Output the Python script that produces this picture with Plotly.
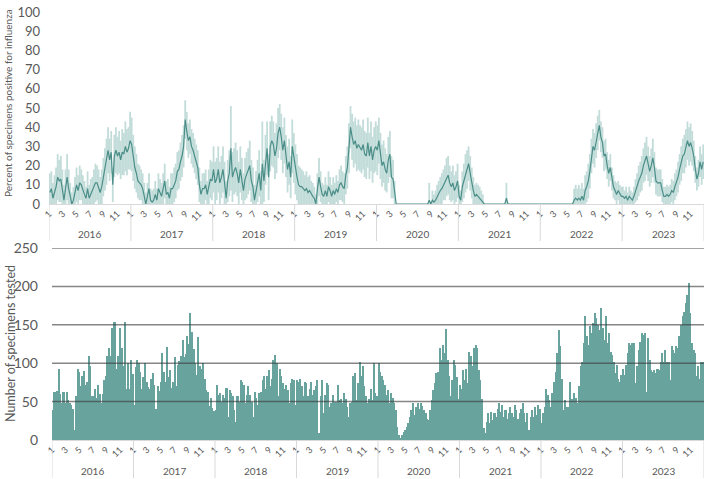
from pathlib import Path
import plotly.graph_objects as go

# === 1. Data (weekly, 52 weeks per year) ===
years = ["2016", "2017", "2018", "2019", "2020", "2021", "2022", "2023"]
tick_months = [1, 3, 5, 7, 9, 11]

# percent of specimens positive for influenza
pct_positive = [
    # 2016
    6, 8, 3, 6, 9, 14, 12, 13, 8, 2, 8, 14, 8,
    4, 0, 2, 6, 10, 7, 11, 10, 7, 5, 3, 8, 3,
    5, 6, 9, 11, 11, 9, 6, 9, 14, 18, 22, 28, 23,
    27, 10, 25, 28, 25, 27, 23, 27, 26, 30, 27, 29, 33,
    # 2017
    31, 24, 19, 16, 12, 11, 10, 8, 4, 0, 4, 8, 2,
    1, 2, 5, 2, 8, 6, 4, 8, 12, 5, 6, 3, 8,
    8, 10, 12, 17, 18, 22, 25, 30, 44, 38, 33, 35, 30,
    28, 25, 22, 19, 10, 5, 8, 8, 10, 5, 9, 13, 12,
    # 2018
    18, 11, 13, 18, 11, 14, 18, 11, 3, 12, 16, 29, 14,
    17, 19, 16, 11, 18, 13, 7, 13, 15, 17, 20, 12, 9,
    2, 7, 12, 16, 7, 21, 12, 23, 29, 14, 30, 33, 31,
    25, 29, 37, 40, 35, 28, 33, 25, 18, 22, 14, 30, 24,
    # 2019
    18, 14, 10, 9, 9, 8, 7, 8, 6, 7, 5, 4, 3,
    0, 8, 14, 9, 5, 4, 7, 4, 9, 7, 4, 7, 5,
    8, 6, 10, 11, 9, 8, 15, 19, 29, 40, 35, 31, 33,
    29, 31, 29, 28, 31, 26, 25, 32, 25, 30, 23, 28, 30,
    # 2020
    28, 33, 25, 20, 22, 18, 16, 23, 26, 14, 13, 5, 0,
    0, 0, 0, 0, 0, 0, 0, 0, 0, 0, 0, 0, 0,
    0, 0, 0, 0, 0, 0, 0, 2, 0, 2, 1, 2, 4,
    5, 7, 8, 10, 11, 14, 15, 11, 9, 11, 7, 9, 12,
    # 2021
    4, 2, 9, 12, 16, 18, 21, 16, 11, 7, 4, 5, 4,
    3, 2, 1, 0, 0, 0, 0, 0, 0, 0, 0, 0, 0,
    0, 0, 0, 0, 3, 0, 0, 0, 0, 0, 0, 0, 0,
    0, 0, 0, 0, 0, 0, 0, 0, 0, 0, 0, 0, 0,
    # 2022
    0, 0, 0, 0, 0, 0, 0, 0, 0, 0, 0, 0, 0,
    0, 0, 0, 0, 0, 0, 0, 0, 2, 3, 2, 3, 2,
    4, 2, 7, 9, 12, 17, 25, 30, 28, 33, 37, 41, 35,
    32, 25, 26, 20, 16, 19, 13, 9, 7, 5, 7, 5, 4,
    # 2023
    4, 3, 4, 2, 4, 3, 2, 4, 7, 9, 12, 14, 16,
    20, 22, 25, 21, 17, 20, 24, 19, 12, 11, 11, 11, 7,
    4, 4, 5, 4, 5, 7, 6, 9, 11, 14, 18, 21, 25,
    26, 29, 33, 30, 32, 29, 25, 18, 13, 16, 22, 18, 22,
]

# half width of the 95% interval around each weekly value
ci_half = [
    # 2016
    10, 9, 8, 9, 10, 12, 11, 12, 10, 8, 10, 12, 10,
    7, 6, 7, 8, 9, 8, 9, 8, 8, 7, 6, 9, 7,
    8, 8, 9, 10, 9, 9, 8, 9, 10, 11, 12, 12, 11,
    11, 9, 11, 12, 10, 11, 10, 12, 11, 13, 12, 11, 15,
    # 2017
    14, 12, 11, 10, 9, 9, 8, 8, 7, 6, 7, 8, 6,
    6, 6, 7, 6, 8, 7, 7, 8, 9, 7, 7, 6, 8,
    8, 9, 9, 10, 10, 10, 11, 11, 10, 10, 9, 9, 9,
    9, 9, 9, 9, 9, 7, 8, 8, 8, 7, 9, 10, 10,
    # 2018
    12, 11, 11, 12, 11, 11, 12, 11, 9, 11, 12, 22, 13,
    12, 13, 12, 11, 12, 11, 9, 11, 12, 12, 13, 11, 10,
    8, 10, 11, 12, 10, 22, 11, 13, 14, 12, 13, 13, 12,
    12, 13, 13, 12, 12, 12, 12, 11, 12, 12, 11, 14, 13,
    # 2019
    13, 12, 10, 10, 9, 9, 8, 9, 8, 8, 7, 7, 6,
    5, 8, 10, 8, 6, 6, 7, 6, 8, 7, 6, 7, 6,
    7, 6, 8, 9, 8, 8, 10, 11, 13, 11, 12, 12, 12,
    12, 13, 12, 12, 13, 12, 12, 13, 12, 13, 12, 12, 13,
    # 2020
    13, 12, 12, 11, 11, 11, 10, 12, 12, 11, 10, 7, 0,
    0, 0, 0, 0, 0, 0, 0, 0, 0, 0, 0, 0, 0,
    0, 0, 0, 0, 0, 0, 0, 9, 0, 5, 4, 5, 6,
    7, 7, 8, 8, 9, 10, 10, 9, 8, 9, 8, 8, 9,
    # 2021
    6, 5, 8, 9, 10, 10, 9, 9, 8, 7, 6, 6, 6,
    6, 5, 4, 0, 0, 0, 0, 0, 0, 0, 0, 0, 0,
    0, 0, 0, 0, 8, 0, 0, 0, 0, 0, 0, 0, 0,
    0, 0, 0, 0, 0, 0, 0, 0, 0, 0, 0, 0, 0,
    # 2022
    0, 0, 0, 0, 0, 0, 0, 0, 0, 0, 0, 0, 0,
    0, 0, 0, 0, 0, 0, 0, 0, 6, 7, 6, 7, 6,
    7, 6, 8, 8, 9, 9, 9, 9, 9, 9, 9, 8, 8,
    8, 8, 8, 7, 7, 7, 6, 6, 5, 6, 5, 5, 5,
    # 2023
    5, 4, 5, 4, 5, 4, 4, 5, 6, 7, 8, 8, 9,
    9, 10, 10, 9, 8, 9, 10, 8, 7, 7, 7, 7, 6,
    5, 5, 5, 5, 5, 6, 6, 7, 7, 8, 8, 9, 9,
    10, 10, 10, 10, 10, 9, 8, 7, 6, 7, 8, 8, 9,
]

# number of specimens tested
n_tested = [
    # 2016
    39, 63, 63, 64, 93, 60, 48, 63, 48, 63, 52, 48, 45,
    40, 13, 57, 93, 88, 70, 83, 90, 72, 75, 110, 96, 57,
    57, 67, 55, 72, 60, 48, 60, 78, 83, 110, 120, 110, 146,
    154, 154, 92, 110, 146, 120, 96, 154, 67, 100, 67, 104, 86,
    # 2017
    46, 95, 104, 100, 88, 66, 82, 100, 75, 69, 66, 80, 87,
    72, 41, 70, 64, 75, 113, 88, 75, 121, 82, 91, 68, 75,
    108, 70, 98, 103, 110, 130, 108, 112, 135, 125, 165, 140, 118,
    100, 84, 134, 96, 92, 100, 80, 65, 62, 44, 55, 42, 38,
    # 2018
    39, 72, 59, 61, 50, 59, 55, 68, 30, 65, 61, 57, 39,
    24, 57, 50, 78, 76, 72, 48, 59, 70, 59, 50, 30, 63,
    55, 46, 61, 63, 78, 83, 67, 83, 91, 70, 80, 104, 111,
    100, 57, 93, 83, 74, 66, 72, 65, 48, 74, 80, 78, 46,
    # 2019
    78, 76, 80, 70, 57, 76, 74, 57, 66, 76, 59, 65, 70,
    78, 9, 57, 78, 35, 59, 74, 72, 43, 48, 59, 50, 50,
    72, 52, 54, 48, 61, 54, 43, 30, 48, 50, 83, 87, 52,
    74, 102, 83, 96, 70, 57, 48, 54, 67, 52, 100, 61, 57,
    # 2020
    100, 89, 83, 78, 72, 59, 65, 48, 61, 55, 48, 39, 17,
    7, 2, 7, 11, 13, 17, 22, 30, 39, 48, 33, 43, 48,
    41, 48, 44, 39, 35, 28, 26, 39, 52, 65, 74, 87, 89,
    120, 104, 124, 113, 144, 104, 83, 57, 78, 104, 98, 82, 54,
    # 2021
    72, 67, 91, 78, 93, 74, 115, 109, 96, 120, 124, 120, 91,
    78, 54, 15, 9, 24, 35, 22, 37, 26, 35, 30, 41, 48,
    37, 46, 30, 39, 28, 35, 43, 35, 30, 46, 39, 28, 35,
    41, 48, 35, 24, 35, 13, 30, 39, 30, 43, 33, 45, 41,
    # 2022
    22, 35, 43, 67, 59, 52, 43, 61, 76, 89, 113, 143, 122,
    80, 39, 52, 43, 43, 76, 54, 54, 61, 55, 48, 70, 96,
    102, 126, 161, 135, 124, 148, 139, 152, 165, 159, 150, 143, 172,
    146, 130, 161, 126, 139, 115, 111, 102, 87, 98, 80, 76, 84,
    # 2023
    93, 85, 98, 113, 126, 124, 126, 126, 74, 96, 117, 128, 139,
    137, 139, 63, 133, 104, 91, 89, 91, 87, 93, 91, 102, 113,
    102, 117, 102, 102, 78, 122, 117, 113, 122, 120, 135, 150, 161,
    167, 178, 189, 204, 165, 126, 117, 113, 83, 96, 80, 102, 102,
]

# === 2. Positions: one slot per week, years on a 0..8 scale ===
weeks = 52
x_week = [i / weeks + 0.5 / weeks for i in range(len(n_tested))]
ci_low = [min(c, p) for c, p in zip(ci_half, pct_positive)]

tickvals = [y + (m - 1) / 12 for y in range(len(years)) for m in tick_months]
ticktext = [str(m) for y in range(len(years)) for m in tick_months]

W, H = 709, 479
TEXT = "#595959"
LIGHT = "#d9d9d9"

top_dom = [1 - 204 / H, 1 - 12 / H]
bot_dom = [1 - 440 / H, 1 - 248 / H]

fig = go.Figure()

fig.add_trace(go.Scatter(
    x=x_week, y=pct_positive, mode="markers",
    marker=dict(size=1, color="rgba(0,0,0,0)"),
    error_y=dict(type="data", symmetric=False, array=ci_half, arrayminus=ci_low,
                 color="#c2dcd9", thickness=1.8, width=0),
    hoverinfo="skip", xaxis="x", yaxis="y",
))
fig.add_trace(go.Scatter(
    x=x_week, y=pct_positive, mode="lines",
    line=dict(color="#4b8e88", width=1.2),
    xaxis="x", yaxis="y",
))
fig.add_trace(go.Bar(
    x=x_week, y=n_tested, width=1 / weeks,
    marker=dict(color="#69a39d", line=dict(width=0)),
    xaxis="x2", yaxis="y2",
))

axis_x = dict(
    range=[0, len(years)], tickmode="array", tickvals=tickvals, ticktext=ticktext,
    tickangle=-45, tickfont=dict(size=9, color=TEXT), ticks="", automargin=False,
    showgrid=False, zeroline=False, showline=True, linecolor=LIGHT, linewidth=1,
)

fig.update_layout(
    template="none",
    width=W, height=H,
    margin=dict(l=0, r=0, t=0, b=0, pad=0),
    paper_bgcolor="white", plot_bgcolor="white",
    showlegend=False, bargap=0,
    font=dict(family="Lato, 'Open Sans', sans-serif", color=TEXT),
    xaxis=dict(axis_x, domain=[49 / W, 704 / W], anchor="y"),
    yaxis=dict(domain=top_dom, range=[0, 100], dtick=10, showgrid=False, zeroline=False,
               showline=False, automargin=False,
               ticks="", tickfont=dict(size=13, color=TEXT), ticklabelstandoff=8),
    xaxis2=dict(axis_x, domain=[52 / W, 704 / W], anchor="y2"),
    yaxis2=dict(domain=bot_dom, range=[0, 250], dtick=50, showgrid=False, zeroline=False,
                showline=False, automargin=False,
                ticks="", tickfont=dict(size=14, color=TEXT), ticklabelstandoff=10),
)

shapes = []
annotations = []
# dark gridlines drawn over the bars
for v in [50, 100, 150, 200, 250]:
    shapes.append(dict(type="line", xref="x2 domain", x0=0, x1=1, yref="y2", y0=v, y1=v,
                       line=dict(color="rgba(60,60,60,0.62)", width=1.5), layer="above"))

# year separators and year labels under each axis
for xr, y_axis, y_end, y_lab in [("x", top_dom[0], 1 - 241 / H, 1 - 234 / H),
                                 ("x2", bot_dom[0], 1 - 478 / H, 1 - 471 / H)]:
    for i in range(len(years) + 1):
        shapes.append(dict(type="line", xref=xr, x0=i, x1=i, yref="paper", y0=y_axis, y1=y_end,
                           line=dict(color=LIGHT, width=1)))
    for i, yr in enumerate(years):
        annotations.append(dict(text=yr, xref=xr, x=i + 0.5, yref="paper", y=y_lab,
                                xanchor="center", yanchor="middle",
                                showarrow=False, font=dict(size=10, color=TEXT)))

annotations.append(dict(text="Percent of specimens positive for influenza", textangle=-90,
                        xref="paper", x=8 / W, yref="paper", y=1 - 103 / H,
                        xanchor="center", yanchor="middle",
                        showarrow=False, font=dict(size=10, color=TEXT)))
annotations.append(dict(text="Number of specimens tested", textangle=-90,
                        xref="paper", x=10 / W, yref="paper", y=1 - 344 / H,
                        xanchor="center", yanchor="middle",
                        showarrow=False, font=dict(size=12.5, color=TEXT)))

fig.update_layout(shapes=shapes, annotations=annotations)

fig.write_html("out.html", config={"displayModeBar": False})

# drop the browser's default page margin so the figure sits at the window corner
out = Path("out.html")
html = out.read_text(encoding="utf-8")
html = html.replace("<head>", "<head><style>html,body{margin:0;padding:0;overflow:hidden}</style>", 1)
out.write_text(html, encoding="utf-8")
